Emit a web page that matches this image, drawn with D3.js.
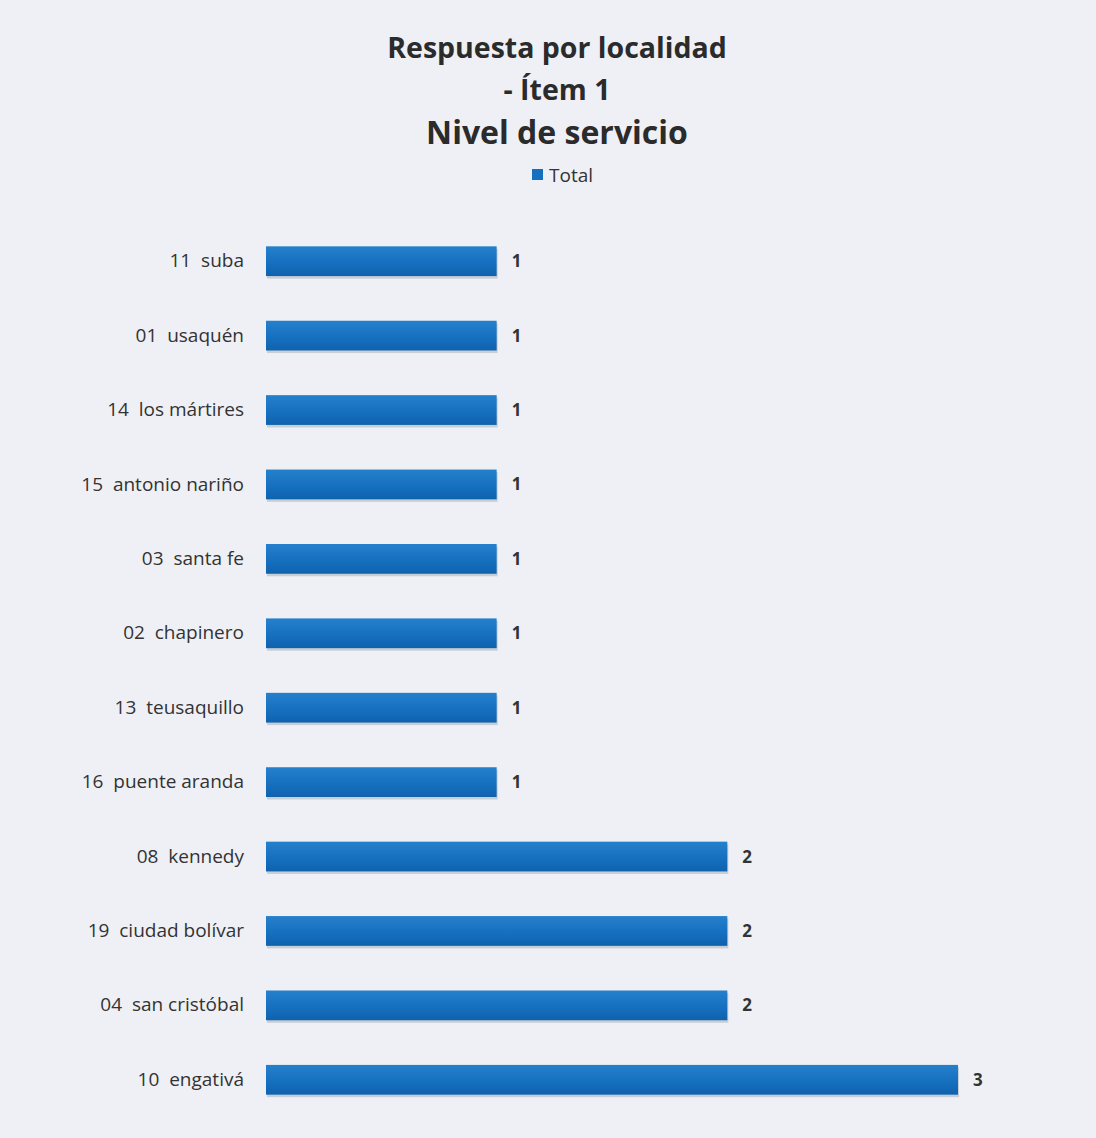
<!DOCTYPE html>
<html><head><meta charset="utf-8">
<script src="https://cdn.jsdelivr.net/npm/d3@7"></script>
<style>
html,body{margin:0;padding:0;background:#eef0f5;}
svg{display:block;}
</style></head>
<body>
<script>
const categories = ["11  suba","01  usaquén","14  los mártires","15  antonio nariño","03  santa fe","02  chapinero","13  teusaquillo","16  puente aranda","08  kennedy","19  ciudad bolívar","04  san cristóbal","10  engativá"];
const values = [1,1,1,1,1,1,1,1,2,2,2,3];
const titleLines = ["Respuesta por localidad","- Ítem 1","Nivel de servicio"];
const seriesName = "Total";

const W = 1096, H = 1138;
const svg = d3.select("body").append("svg").attr("width", W).attr("height", H);
svg.append("rect").attr("width", W).attr("height", H).attr("fill", "#eef0f5");

const defs = svg.append("defs");
const grad = defs.append("linearGradient").attr("id","barg").attr("x1",0).attr("y1",0).attr("x2",0).attr("y2",1);
grad.append("stop").attr("offset","0%").attr("stop-color","#2580cc");
grad.append("stop").attr("offset","55%").attr("stop-color","#1670c0");
grad.append("stop").attr("offset","100%").attr("stop-color","#0f62ad");

const x = d3.scaleLinear().domain([0,3]).range([266, 958]);
const y = d3.scaleBand().domain(categories).range([224, 1117]).paddingInner(0.6).paddingOuter(0.3);

const font = "Open Sans, Liberation Sans, sans-serif";

// title
const tSizes = [28.5, 28.5, 32];
svg.append("g").selectAll("text").data(titleLines).join("text")
  .attr("x", 557).attr("y", (d,i)=>[58,100,144][i])
  .attr("text-anchor","middle")
  .attr("font-family", font).attr("font-weight","bold")
  .attr("font-size", (d,i)=> tSizes[i])
  .attr("fill","#2b2b2b")
  .text(d=>d);

// legend
const lg = svg.append("g");
lg.append("rect").attr("x",532).attr("y",169).attr("width",11).attr("height",11).attr("fill","#1670c0");
lg.append("text").attr("x",549).attr("y",182).attr("font-family",font).attr("font-size",19).attr("fill","#333").text(seriesName);

// axis labels
const yAxis = d3.axisLeft(y).tickSize(0).tickPadding(22);
const ga = svg.append("g").attr("transform",`translate(${x(0)},0)`).call(yAxis);
ga.select(".domain").remove();
ga.selectAll("text").attr("font-family",font).attr("font-size",19).attr("fill","#333").style("white-space","pre");

const data = categories.map((c,i)=>({c, v: values[i]}));

// shadow
svg.append("g").selectAll("rect").data(data).join("rect")
  .attr("x", x(0)+1).attr("y", d=>y(d.c)+2.5)
  .attr("width", d=>x(d.v)-x(0)).attr("height", y.bandwidth())
  .attr("fill","#9aa3b0").attr("opacity",0.45);

svg.append("g").selectAll("rect").data(data).join("rect")
  .attr("x", x(0)).attr("y", d=>y(d.c))
  .attr("width", d=>x(d.v)-x(0)).attr("height", y.bandwidth())
  .attr("fill","url(#barg)");

svg.append("g").selectAll("text").data(data).join("text")
  .attr("x", d=>x(d.v)+15).attr("y", d=>y(d.c)+y.bandwidth()/2+6)
  .attr("font-family",font).attr("font-weight","bold").attr("font-size",17).attr("fill","#333")
  .text(d=>d.v);
</script>
</body></html>
